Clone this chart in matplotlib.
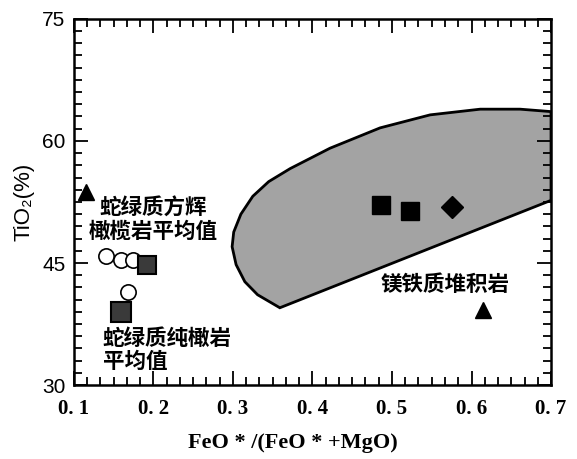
import numpy as np
import matplotlib
matplotlib.use('Agg')
import matplotlib.pyplot as plt
from matplotlib.ticker import MultipleLocator

plt.rcParams['font.family'] = ['Noto Sans CJK SC', 'DejaVu Sans']

# 镁铁质堆积岩 field outline (FeO*/(FeO*+MgO), TiO2)
field_x = [0.299, 0.304, 0.315, 0.331, 0.359, 0.700, 0.700, 0.661, 0.611, 0.548,
           0.485, 0.422, 0.372, 0.345, 0.325, 0.310, 0.301]
field_y = [47.0, 44.8, 42.7, 41.1, 39.5, 52.7, 63.6, 63.9, 63.9, 63.2,
           61.6, 59.1, 56.6, 55.0, 53.2, 51.0, 48.8]

tri_x = [0.115, 0.614]
tri_y = [53.7, 39.2]
circ_x = [0.141, 0.159, 0.174, 0.168]
circ_y = [45.8, 45.4, 45.4, 41.4]
grey_sq_x = [0.192, 0.159]
grey_sq_y = [44.8, 39.0]
black_sq_x = [0.486, 0.523]
black_sq_y = [52.1, 51.4]
dia_x = [0.576]
dia_y = [51.9]

xticks = [0.1, 0.2, 0.3, 0.4, 0.5, 0.6, 0.7]
xticklabels = ['0. 1', '0. 2', '0. 3', '0. 4', '0. 5', '0. 6', '0. 7']
yticks = [30, 45, 60, 75]

fig = plt.figure(figsize=(5.77, 4.59), dpi=100)
ax = fig.add_axes([0.128, 0.161, 0.827, 0.798])

ax.fill(field_x, field_y, facecolor='#a3a3a3', edgecolor='black', linewidth=2, zorder=1)

ax.plot(tri_x, tri_y, '^', color='black', ms=12, zorder=3)
ax.plot(circ_x, circ_y, 'o', mfc='white', mec='black', ms=11, mew=1.2, zorder=3)
ax.plot(grey_sq_x[:1], grey_sq_y[:1], 's', mfc='#3a3a3a', mec='black', ms=13, mew=1.5, zorder=4)
ax.plot(grey_sq_x[1:], grey_sq_y[1:], 's', mfc='#3a3a3a', mec='black', ms=15, mew=1.5, zorder=4)
ax.plot(black_sq_x, black_sq_y, 's', color='black', ms=13, zorder=3)
ax.plot(dia_x, dia_y, 'D', color='black', ms=11, zorder=3)

ax.text(0.200, 50.3, '蛇绿质方辉\n橄榄岩平均值', ha='center', va='center',
        fontsize=15.5, fontweight='bold', linespacing=1.1)
ax.text(0.1365, 34.3, '蛇绿质纯橄岩\n平均值', ha='left', va='center',
        fontsize=15.5, fontweight='bold', linespacing=1.1)
ax.text(0.567, 42.3, '镁铁质堆积岩', ha='center', va='center',
        fontsize=15.5, fontweight='bold')

ax.set_xlim(0.1, 0.7)
ax.set_ylim(30, 75)
ax.set_xticks(xticks)
ax.set_xticklabels(xticklabels, family='Liberation Serif', fontweight='bold', fontsize=15)
ax.set_yticks(yticks)
ax.set_yticklabels([str(v) for v in yticks], family='Liberation Sans', fontsize=15)
ax.xaxis.set_minor_locator(MultipleLocator(0.1 / 6))
ax.yaxis.set_minor_locator(MultipleLocator(1.5))
ax.tick_params(which='both', direction='in', top=True, right=True, width=1.3)
ax.tick_params(which='major', length=10, pad=6)
ax.tick_params(axis='x', which='major', pad=10)
ax.tick_params(which='minor', length=6)
for s in ax.spines.values():
    s.set_linewidth(1.8)

ax.set_xlabel('FeO * /(FeO * +MgO)', family='Liberation Serif', fontweight='bold', fontsize=16)
ax.xaxis.set_label_coords(0.46, -0.13)
ax.set_ylabel('TiO₂(%)', family=['Liberation Sans', 'DejaVu Sans'], fontsize=16)
ax.yaxis.set_label_coords(-0.082, 0.5)

fig.savefig('out.png', dpi=100)
